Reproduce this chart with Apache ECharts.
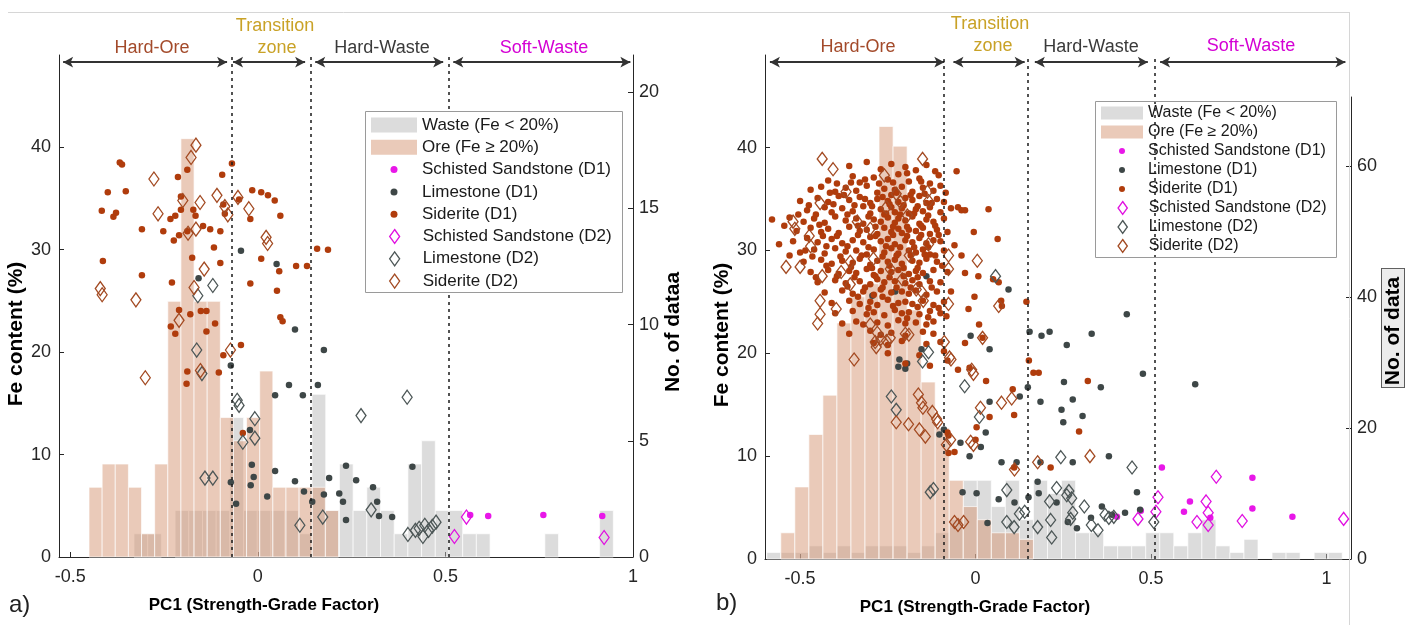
<!DOCTYPE html>
<html><head><meta charset="utf-8">
<script src="https://cdn.jsdelivr.net/npm/echarts@6/dist/echarts.min.js"></script>
<style>html,body{margin:0;padding:0;background:#fff}#c{width:1417px;height:625px}</style>
</head><body><div id="c"></div>
<script>
// ================= DATA =================
const xTicks = [-0.5, 0, 0.5, 1];
const feTicks = [0, 10, 20, 30, 40];
const countTicksA = [0, 5, 10, 15, 20];
const countTicksB = [0, 20, 40, 60];
const legendNames = ['Waste (Fe < 20%)', 'Ore (Fe \u2265 20%)', 'Schisted Sandstone (D1)', 'Limestone (D1)', 'Siderite (D1)', 'Schisted Sandstone (D2)', 'Limestone (D2)', 'Siderite (D2)'];
const zoneLabels = ['Hard-Ore', 'Transition', 'zone', 'Hard-Waste', 'Soft-Waste'];
const boundariesA = [-0.075, 0.142, 0.507];
const boundariesB = [-0.085, 0.146, 0.511];
const arrowsA = [[-0.519, -0.082], [-0.066, 0.126], [0.153, 0.494], [0.521, 0.993]];
const arrowsB = [[-0.586, -0.089], [-0.063, 0.14], [0.169, 0.491], [0.526, 1.054]];
const arrowFe = 48.3;

// histograms (bin start, bin width, counts)
const oreStartA = -0.45, oreWidthA = 0.035;
const oreCountsA = [3,4,4,3,1,4,11,18,11,11,6,5,6,8,3,3,3,3,2];
const wasteStartA = -0.33, wasteWidthA = 0.0365;
const wasteCountsA = [1,1,0,2,2,2,2,6,2,2,2,2,1,7,2,4,2,3,2,1,4,5,2,2,1,1,0,0,0,0,1,0,0,0,2];
const oreStartB = -0.555, oreWidthB = 0.04;
const oreCountsB = [4,11,19,25,36,40,42,66,63,38,27,20,12,8,6,4,4,3];
const wasteStartB = -0.595, wasteWidthB = 0.04;
const wasteCountsB = [1,1,1,2,1,2,1,2,2,2,1,2,4,6,12,12,8,12,6,12,10,12,4,4,2,2,2,4,4,2,4,6,2,1,3,0,1,1,0,1,1];

// panel a scatter [PC1, Fe]
const ssD1_a = [[0.566,4.1],[0.614,4.0],[0.761,4.1],[0.918,4.0]];
const limeD1_a = [[-0.045,29.9],[0.05,28.6],[-0.158,27.2],[0.099,22.2],[0.176,20.2],[0.16,16.8],[0.083,16.8],[0.12,15.8],[0.046,15.8],[-0.072,18.7],[-0.021,12.4],[-0.016,9.0],[-0.011,7.8],[-0.019,7.0],[-0.072,7.3],[-0.058,5.2],[0.025,5.9],[0.046,8.4],[0.099,7.4],[0.123,6.4],[0.145,5.4],[0.176,6.1],[0.19,7.7],[0.217,6.2],[0.235,8.9],[0.235,3.6],[0.227,5.4],[0.262,7.5],[0.307,6.8],[0.318,5.4],[0.323,4.0],[0.358,3.9],[0.412,8.8]];
const sidD1_a = [[-0.368,38.5],[-0.362,38.3],[-0.40,35.6],[-0.352,35.7],[-0.416,33.8],[-0.385,33.2],[-0.378,33.6],[-0.413,28.9],[-0.309,32.0],[-0.309,27.5],[-0.229,26.8],[-0.252,31.8],[-0.213,37.1],[-0.188,37.8],[-0.205,35.2],[-0.205,33.9],[-0.233,33.0],[-0.22,33.3],[-0.224,30.9],[-0.21,31.4],[-0.188,31.8],[-0.172,33.9],[-0.166,33.3],[-0.175,29.2],[-0.146,32.3],[-0.127,32.0],[-0.117,30.2],[-0.10,31.8],[-0.10,28.7],[-0.095,37.3],[-0.092,34.4],[-0.088,33.5],[-0.069,38.4],[-0.05,34.9],[-0.02,33.0],[-0.015,35.8],[0.009,35.6],[0.027,35.3],[0.045,34.8],[0.06,33.3],[-0.02,26.7],[0.009,29.1],[0.057,27.9],[0.102,28.4],[0.131,28.4],[0.158,30.1],[0.187,30.0],[0.051,26.0],[-0.152,24.0],[-0.21,24.1],[-0.18,23.7],[-0.22,21.8],[-0.137,24.0],[-0.137,22.0],[-0.114,22.8],[-0.188,18.1],[-0.19,16.9],[-0.104,18.0],[-0.232,22.5],[-0.045,20.7],[-0.092,19.7],[-0.04,12.1],[0.06,23.4],[0.066,23.0]];
const ssD2_a = [[0.556,3.9],[0.524,2.0],[0.923,1.9]];
const limeD2_a = [[-0.16,25.5],[-0.12,26.5],[-0.163,20.2],[-0.149,17.9],[-0.055,15.3],[-0.05,14.8],[-0.008,13.5],[-0.008,11.6],[-0.04,11.2],[-0.141,7.7],[-0.12,7.7],[0.112,3.1],[0.173,3.9],[0.275,13.8],[0.302,4.6],[0.398,15.6],[0.40,2.2],[0.42,2.6],[0.43,2.8],[0.44,2.0],[0.445,3.1],[0.455,2.6],[0.465,3.0],[0.475,3.4]];
const sidD2_a = [[-0.165,40.2],[-0.178,39.0],[-0.277,36.9],[-0.2,34.8],[-0.154,34.6],[-0.109,35.3],[-0.088,34.2],[-0.08,33.4],[-0.266,33.5],[-0.186,31.6],[-0.165,32.0],[-0.053,35.1],[-0.024,34.0],[0.022,31.2],[0.026,30.6],[-0.143,28.1],[-0.17,26.3],[-0.42,26.2],[-0.415,25.6],[-0.325,25.1],[-0.21,23.1],[-0.30,17.5],[-0.073,20.2],[-0.153,18.2]];

// panel b scatter [PC1, Fe]
const ssD1_b = [[0.531,8.9],[0.789,7.9],[0.611,5.6],[0.594,4.6],[0.471,4.7],[0.669,4.0],[0.789,4.9],[0.903,4.1],[0.403,4.1]];
const limeD1_b = [[-0.217,19.4],[-0.2,18.5],[-0.195,19.0],[-0.154,20.4],[-0.22,18.7],[-0.103,12.1],[-0.09,12.6],[-0.014,21.7],[0.04,20.4],[0.029,12.3],[0.154,22.1],[0.188,21.7],[0.211,22.1],[0.26,20.8],[0.331,21.9],[0.477,18.0],[0.431,23.8],[0.626,17.0],[0.252,17.2],[0.357,16.7],[0.277,15.5],[0.245,14.5],[0.25,13.3],[0.305,13.9],[0.185,15.3],[0.149,16.7],[0.126,15.8],[0.04,15.3],[0.015,10.9],[-0.043,11.3],[-0.017,10.0],[0.074,9.4],[0.117,9.4],[0.185,9.4],[0.277,9.4],[0.38,10.0],[0.177,7.5],[0.18,6.4],[-0.037,6.5],[0.003,6.4],[0.066,5.8],[0.111,5.5],[0.151,6.0],[0.231,5.5],[0.289,3.0],[0.389,4.3],[0.426,4.5],[0.46,6.5],[0.469,4.8],[0.263,3.6],[0.329,4.0],[0.36,5.1],[0.034,3.5],[-0.30,28.4],[-0.294,25.6],[-0.229,26.0],[-0.14,27.5],[0.094,26.2]];
const sidD1_b = [
[-0.36,38.2],[-0.31,38.6],[-0.27,37.9],[-0.24,38.4],[-0.2,38.1],[-0.17,37.8],[-0.14,38.3],[-0.115,37.7],
[-0.42,36.8],[-0.35,37.2],[-0.33,36.6],[-0.29,37.1],[-0.25,36.9],[-0.22,37.4],[-0.19,36.7],[-0.16,37.0],[-0.13,36.5],[-0.105,37.3],
[-0.47,35.9],[-0.44,36.2],[-0.40,35.7],[-0.37,36.1],[-0.34,35.8],[-0.31,36.3],[-0.28,35.6],[-0.26,36.0],[-0.23,35.9],[-0.21,36.2],[-0.18,35.7],[-0.15,36.1],[-0.12,35.8],[-0.1,36.3],[-0.085,35.6],
[-0.5,34.8],[-0.45,35.1],[-0.42,34.7],[-0.39,35.3],[-0.36,34.9],[-0.33,35.2],[-0.3,34.6],[-0.28,35.0],[-0.25,34.8],[-0.24,35.4],[-0.22,34.7],[-0.2,35.1],[-0.18,34.9],[-0.16,35.3],[-0.14,34.6],[-0.11,35.0],[-0.09,34.7],
[-0.48,33.9],[-0.43,34.2],[-0.41,33.7],[-0.38,34.1],[-0.35,33.8],[-0.32,34.3],[-0.3,33.6],[-0.27,34.0],[-0.26,33.5],[-0.24,34.2],[-0.23,33.7],[-0.21,34.1],[-0.19,33.6],[-0.17,34.0],[-0.15,33.8],[-0.13,34.2],[-0.1,33.7],[-0.07,34.1],[-0.04,33.9],
[-0.58,33.0],[-0.53,33.2],[-0.49,32.8],[-0.46,33.1],[-0.43,32.7],[-0.4,33.3],[-0.37,32.9],[-0.34,33.1],[-0.32,32.6],[-0.29,33.0],[-0.27,32.8],[-0.25,33.2],[-0.23,32.7],[-0.22,33.1],[-0.2,32.9],[-0.18,33.3],[-0.16,32.6],[-0.14,33.0],[-0.12,32.8],[-0.09,33.1],
[-0.51,31.9],[-0.47,32.2],[-0.44,31.8],[-0.42,32.1],[-0.39,31.7],[-0.36,32.3],[-0.33,31.9],[-0.31,32.0],[-0.28,31.6],[-0.26,32.2],[-0.24,31.8],[-0.22,32.1],[-0.21,31.7],[-0.19,32.0],[-0.17,31.9],[-0.15,32.2],[-0.13,31.6],[-0.11,32.0],[-0.08,31.8],
[-0.52,30.9],[-0.48,31.2],[-0.45,30.8],[-0.41,31.1],[-0.38,30.7],[-0.35,31.0],[-0.32,30.8],[-0.3,31.3],[-0.27,30.9],[-0.25,31.1],[-0.23,30.6],[-0.2,31.0],[-0.18,30.8],[-0.16,31.2],[-0.14,30.7],[-0.12,31.0],[-0.1,30.9],
[-0.5,29.8],[-0.46,30.1],[-0.43,29.7],[-0.4,30.2],[-0.37,29.9],[-0.34,30.0],[-0.31,29.6],[-0.29,30.1],[-0.26,29.8],[-0.24,30.2],[-0.22,29.7],[-0.19,30.0],[-0.17,29.8],[-0.15,30.1],[-0.13,29.6],[-0.09,30.0],
[-0.49,28.9],[-0.44,29.1],[-0.41,28.7],[-0.38,29.0],[-0.35,28.8],[-0.33,29.2],[-0.3,28.6],[-0.28,29.0],[-0.25,28.9],[-0.23,29.1],[-0.21,28.7],[-0.18,29.0],[-0.16,28.8],[-0.14,29.2],[-0.11,28.9],
[-0.47,27.9],[-0.42,28.1],[-0.39,27.7],[-0.36,28.0],[-0.34,27.8],[-0.31,28.2],[-0.29,27.6],[-0.27,28.0],[-0.24,27.9],[-0.22,28.1],[-0.19,27.7],[-0.17,28.0],[-0.15,27.8],[-0.12,28.1],[-0.08,27.9],
[-0.45,26.9],[-0.4,27.1],[-0.37,26.8],[-0.33,27.0],[-0.3,26.7],[-0.28,27.2],[-0.26,26.9],[-0.23,27.0],[-0.2,26.8],[-0.18,27.1],[-0.16,26.7],[-0.13,27.0],[-0.1,26.9],
[-0.43,25.9],[-0.38,26.1],[-0.35,25.8],[-0.32,26.0],[-0.29,25.7],[-0.27,26.2],[-0.24,25.9],[-0.21,26.0],[-0.19,25.8],[-0.17,26.1],[-0.14,25.7],[-0.11,26.0],
[-0.41,24.9],[-0.36,25.1],[-0.33,24.8],[-0.3,25.0],[-0.28,24.7],[-0.25,25.2],[-0.22,24.9],[-0.2,25.0],[-0.18,24.8],[-0.15,25.1],[-0.12,24.7],[-0.09,25.0],
[-0.4,23.9],[-0.35,24.1],[-0.31,23.8],[-0.29,24.0],[-0.26,23.7],[-0.23,24.2],[-0.21,23.9],[-0.19,24.0],[-0.16,23.8],[-0.13,24.1],[-0.1,23.9],
[-0.38,22.9],[-0.34,23.1],[-0.32,22.8],[-0.28,23.0],[-0.25,22.7],[-0.22,23.2],[-0.2,22.9],[-0.17,23.0],[-0.14,22.8],[-0.12,23.1],
[-0.36,21.9],[-0.3,22.2],[-0.27,21.8],[-0.24,22.0],[-0.2,21.7],[-0.15,22.1],[-0.12,21.9],
[-0.29,21.0],[-0.25,20.8],[-0.21,21.2],[-0.14,20.9],[-0.1,21.1],
[-0.25,20.0],[-0.16,19.8],[-0.09,20.2],[-0.2,19.0],[-0.13,18.8],[-0.08,19.3],
[-0.375,35.4],[-0.345,34.4],[-0.315,35.0],[-0.295,34.3],[-0.265,35.2],[-0.245,34.5],[-0.225,35.6],[-0.205,34.4],[-0.185,35.4],[-0.165,34.3],[-0.145,35.5],
[-0.365,33.5],[-0.335,32.4],[-0.305,33.3],[-0.285,32.3],[-0.255,33.6],[-0.235,32.3],[-0.215,33.5],[-0.195,32.3],[-0.175,33.6],[-0.155,32.4],[-0.135,33.4],[-0.115,32.4],
[-0.395,31.4],[-0.365,30.4],[-0.335,31.5],[-0.305,30.3],[-0.285,31.4],[-0.255,30.4],[-0.235,31.5],[-0.215,30.3],[-0.195,31.4],[-0.175,30.3],[-0.155,31.5],[-0.135,30.3],
[-0.385,29.4],[-0.355,28.4],[-0.325,29.5],[-0.295,28.3],[-0.265,29.4],[-0.245,28.5],[-0.225,29.5],[-0.205,28.3],[-0.185,29.5],[-0.165,28.3],[-0.145,29.6],
[-0.345,27.4],[-0.315,26.4],[-0.285,27.5],[-0.265,26.4],[-0.245,27.4],[-0.225,26.4],[-0.205,27.5],[-0.185,26.4],[-0.165,27.4],
[-0.455,33.5],[-0.435,31.4],[-0.465,29.4],[-0.425,30.4],[-0.415,35.6],[-0.445,32.5],[-0.475,34.4],[-0.405,34.5],[-0.395,36.5],[-0.355,36.6],[-0.315,36.9],[-0.275,36.5],[-0.235,36.6],[-0.195,37.5],[-0.155,36.7],
[-0.125,34.6],[-0.105,31.5],[-0.115,29.5],[-0.095,28.5],[-0.125,26.4],[-0.105,24.4],[-0.135,23.5],[-0.165,24.5],[-0.195,23.4],[-0.235,24.6],[-0.265,25.5],[-0.305,24.4],[-0.335,25.5],[-0.365,26.5],[-0.395,27.5],[-0.425,28.5],[-0.455,27.4],[-0.485,30.0],[-0.505,33.5],[-0.545,32.4],[-0.56,30.6],[-0.53,29.5],
[-0.077,12.0],[-0.08,12.3],[-0.077,10.3],[-0.06,10.4],[-0.05,18.4],[-0.017,18.6],[0.003,12.8],[0.0,11.6],[0.03,17.3],[0.04,13.8],[0.106,16.5],[0.11,14.0],[0.11,8.9],[0.152,19.3],[0.165,18.1],[0.18,18.1],[0.214,8.9],[0.32,17.3],[0.295,12.4],[0.145,25.0],[0.073,25.1],[0.075,24.6],[0.063,31.1],[0.037,34.0],[0.008,27.5],[-0.03,27.8],[0.05,27.2],[0.066,26.9],[-0.05,34.2],[-0.03,33.9],[-0.005,31.8],[-0.083,23.6],[-0.003,25.5],[-0.06,30.5],[-0.04,29.5],[-0.07,26.0],[0.02,21.5],[-0.03,21.0],[-0.054,37.7],[-0.02,24.3],[0.01,22.8]];
const ssD2_b = [[0.686,8.0],[0.52,6.0],[0.514,4.6],[0.463,3.9],[0.657,5.6],[0.663,4.5],[0.631,3.6],[0.663,3.3],[0.76,3.7],[1.049,3.9]];
const limeD2_b = [[-0.24,15.8],[-0.226,14.5],[-0.134,20.1],[-0.151,19.2],[-0.129,6.5],[-0.12,6.8],[-0.031,16.8],[0.011,13.8],[0.089,6.7],[0.11,3.1],[0.089,3.6],[0.125,4.4],[0.14,4.6],[0.177,3.1],[0.217,2.1],[0.214,3.8],[0.243,9.9],[0.231,6.9],[0.211,5.6],[0.26,6.2],[0.266,6.6],[0.274,5.9],[0.277,4.5],[0.271,3.9],[0.31,5.1],[0.33,3.3],[0.349,2.8],[0.369,4.3],[0.38,4.0],[0.394,4.1],[0.446,8.9],[0.508,3.6],[0.057,27.5]];
const sidD2_b = [[-0.437,38.9],[-0.406,37.9],[-0.151,38.9],[-0.26,37.3],[-0.369,35.7],[-0.443,34.6],[-0.52,32.8],[-0.515,32.1],[-0.474,31.4],[-0.47,30.4],[-0.54,28.4],[-0.50,28.4],[-0.437,27.5],[-0.357,26.7],[-0.337,32.8],[-0.3,32.1],[-0.254,34.2],[-0.226,35.5],[-0.214,34.7],[-0.194,33.4],[-0.137,35.7],[-0.134,34.8],[-0.134,30.6],[-0.189,29.5],[-0.291,29.2],[-0.357,28.9],[-0.383,27.9],[-0.243,28.2],[-0.209,27.2],[-0.169,26.2],[-0.154,26.0],[-0.077,29.5],[-0.077,28.2],[0.005,29.0],[0.066,24.6],[-0.077,24.8],[-0.149,25.1],[-0.443,23.8],[-0.397,24.3],[-0.443,25.1],[-0.45,22.9],[-0.346,19.4],[-0.3,22.8],[-0.28,22.0],[-0.27,21.4],[-0.254,21.2],[-0.286,21.1],[-0.243,21.5],[-0.283,20.6],[-0.2,21.9],[-0.19,21.8],[-0.226,13.3],[-0.191,13.1],[-0.16,12.6],[-0.163,16.0],[-0.154,15.2],[-0.15,14.7],[-0.123,14.3],[-0.111,13.6],[-0.108,13.3],[-0.143,11.9],[-0.083,11.1],[-0.071,11.6],[-0.089,21.1],[-0.074,19.6],[-0.07,19.4],[-0.011,18.4],[-0.006,18.0],[-0.006,11.1],[-0.014,11.4],[0.02,21.5],[0.014,14.7],[0.074,15.2],[0.103,15.6],[0.111,8.7],[0.177,9.4],[0.326,10.0],[-0.06,3.6],[-0.034,3.6],[-0.05,3.3]];

// ================= STYLE =================
const FONT = "'Liberation Sans', Arial, sans-serif";
const AX = '#262626';
const COL = {
  waste: 'rgba(185,185,185,0.5)', ore: 'rgba(214,150,115,0.5)',
  ssD1: '#e817e8', limeD1: '#3e4747', sidD1: '#b03c0c',
  ssD2: '#e010e0', limeD2: '#4d5757', sidD2: '#a34a22'
};
const DIAMOND_ICON = 'path://M5,0L10,7L5,14L0,7Z';

function histData(start, w, counts) {
  return counts.map((c, i) => [start + i * w, start + (i + 1) * w, c]).filter(d => d[2] > 0);
}
function histSeries(name, xi, yi, data, color) {
  return {
    type: 'custom', name, xAxisIndex: xi, yAxisIndex: yi, z: 1, silent: true,
    itemStyle: { color }, encode: { x: [0, 1], y: 2 },
    renderItem(params, api) {
      const p0 = api.coord([api.value(0), api.value(2)]);
      const p1 = api.coord([api.value(1), 0]);
      return { type: 'rect', shape: { x: p0[0], y: p0[1], width: p1[0] - p0[0], height: p1[1] - p0[1] },
        style: { fill: color, stroke: 'rgba(255,255,255,0.85)', lineWidth: 0.8 } };
    },
    data
  };
}
function dots(name, xi, yi, data, color, size) {
  return { type: 'scatter', name, xAxisIndex: xi, yAxisIndex: yi, symbol: 'circle', symbolSize: size,
    itemStyle: { color, opacity: 1 }, z: 3, silent: true, data };
}
function diamonds(name, xi, yi, data, color, size) {
  return { type: 'scatter', name, xAxisIndex: xi, yAxisIndex: yi, symbol: 'diamond', symbolSize: size,
    itemStyle: { color: 'rgba(255,255,255,0)', borderColor: color, borderWidth: 1.3, opacity: 1 }, z: 4, silent: true, data };
}
function zoneLines(bounds) {
  return { silent: true, animation: false, symbol: ['none', 'none'], label: { show: false },
    lineStyle: { color: '#1a1a1a', type: [3, 4], width: 1.5 },
    data: bounds.map(v => ({ xAxis: v })) };
}
function zoneArrows(arrows) {
  return { silent: true, animation: false, symbol: ['arrow', 'arrow'], symbolSize: [8, 10], label: { show: false },
    lineStyle: { color: '#333', type: 'solid', width: 2 },
    data: arrows.map(a => [{ coord: [a[0], arrowFe] }, { coord: [a[1], arrowFe] }]) };
}

function xAxisCfg(gi, min, max, show, padRight) {
  return {
    type: 'value', gridIndex: gi, min, max, show,
    name: show ? 'PC1 (Strength-Grade Factor)' : '', nameLocation: 'middle', nameGap: 40,
    nameTextStyle: { fontFamily: FONT, fontSize: 17, fontWeight: 'bold', color: '#000', padding: [0, padRight, 0, 0] },
    axisLine: { show: true, onZero: false, lineStyle: { color: AX, width: 1 } },
    axisTick: { show: true, inside: true, length: 5, customValues: xTicks, lineStyle: { color: AX } },
    axisLabel: { customValues: xTicks, margin: 11, fontFamily: FONT, fontSize: 18, color: AX },
    splitLine: { show: false }
  };
}
function yLeft(gi, name) {
  return {
    type: 'value', gridIndex: gi, min: 0, max: 49, position: 'left',
    name, nameLocation: 'middle', nameGap: 26,
    nameTextStyle: { fontFamily: FONT, fontSize: 21, fontWeight: 'bold', color: '#000', padding: [0, 56, 0, 0] },
    axisLine: { show: true, onZero: false, lineStyle: { color: AX } },
    axisTick: { show: true, inside: true, length: 5, customValues: feTicks, lineStyle: { color: AX } },
    axisLabel: { customValues: feTicks, margin: 8, fontFamily: FONT, fontSize: 18, color: AX },
    splitLine: { show: false }
  };
}
function yRight(gi, max, ticks, name, gap, boxed, padR) {
  const nts = { fontFamily: FONT, fontSize: 21, fontWeight: 'bold', color: '#000', padding: [0, padR, 0, 0] };
  if (boxed) Object.assign(nts, { backgroundColor: '#ececec', borderColor: '#333', borderWidth: 0.8, padding: [1, padR, 0, 2] });
  return {
    type: 'value', gridIndex: gi, min: 0, max, position: 'right',
    name, nameLocation: 'middle', nameGap: gap, nameTextStyle: nts,
    axisLine: { show: true, onZero: false, lineStyle: { color: AX } },
    axisTick: { show: true, inside: true, length: 5, customValues: ticks, lineStyle: { color: AX } },
    axisLabel: { customValues: ticks, margin: 6, fontFamily: FONT, fontSize: 18, color: AX },
    splitLine: { show: false }
  };
}
function legendGroup(names, left, top, iw, ih, icon, fs, lh, extra) {
  return Object.assign({
    orient: 'vertical', left, top, padding: 0, itemGap: 0.3, itemWidth: iw, itemHeight: ih, icon,
    selectedMode: false, z: 20, data: names,
    textStyle: { fontFamily: FONT, fontSize: fs, lineHeight: lh, color: '#1a1a1a' }
  }, extra || {});
}
function headerTexts(pos) {
  const cols = ['#a34a2a', '#c9a227', '#c9a227', '#3a3a3a', '#d400d4'];
  return zoneLabels.map((t, i) => ({
    type: 'text', x: pos[i][0], y: pos[i][1], z: 30,
    style: { text: t, fill: cols[i], font: '18px ' + FONT, align: 'center', verticalAlign: 'middle' }
  }));
}

const chart = echarts.init(document.getElementById('c'), null, { renderer: 'canvas' });
const option = {
  animation: false,
  backgroundColor: '#fff',
  grid: [
    { left: 59, right: 784, top: 55, bottom: 68 },
    { left: 59, right: 784, top: 55, bottom: 68 },
    { left: 765, right: 66, top: 55, bottom: 66 },
    { left: 765, right: 66, top: 97, bottom: 66 }
  ],
  xAxis: [
    xAxisCfg(0, -0.53, 1.0, true, 164),
    xAxisCfg(1, -0.53, 1.0, false, 0),
    xAxisCfg(2, -0.6, 1.07, true, 166),
    xAxisCfg(3, -0.6, 1.07, false, 0)
  ],
  yAxis: [
    yLeft(0, 'Fe content (%)'),
    yRight(1, 21.6, countTicksA, 'No. of dataa', 24, false, 52),
    yLeft(2, 'Fe content (%)'),
    yRight(3, 70.5, countTicksB, 'No. of data', 31, true, 8)
  ],
  legend: [
    legendGroup(legendNames.slice(0, 2), 371, 114, 46, 15, 'rect', 17, 22),
    legendGroup(legendNames.slice(2, 5), 390.5, 158.6, 46, 7, 'circle', 17, 22),
    legendGroup(legendNames.slice(5, 8), 389, 225.5, 46, 14, DIAMOND_ICON, 17, 22, { itemStyle: { borderWidth: 1.3 } }),
    legendGroup(legendNames.slice(0, 2), 1101, 103.5, 42, 13, 'rect', 16, 19, { itemGap: 0 }),
    legendGroup(legendNames.slice(2, 5), 1119, 141.5, 42, 6, 'circle', 16, 19, { itemGap: 0 }),
    legendGroup(legendNames.slice(5, 8), 1117.4, 198.5, 42, 13, DIAMOND_ICON, 16, 19, { itemGap: 0, itemStyle: { borderWidth: 1.3 } })
  ],
  series: [
    histSeries(legendNames[0], 1, 1, histData(wasteStartA, wasteWidthA, wasteCountsA), COL.waste),
    histSeries(legendNames[1], 1, 1, histData(oreStartA, oreWidthA, oreCountsA), COL.ore),
    dots(legendNames[2], 0, 0, ssD1_a, COL.ssD1, 6.5),
    Object.assign(dots(legendNames[3], 0, 0, limeD1_a, COL.limeD1, 6.5), { markLine: zoneArrows(arrowsA) }),
    Object.assign(dots(legendNames[4], 0, 0, sidD1_a, COL.sidD1, 6.5), { markLine: zoneLines(boundariesA) }),
    diamonds(legendNames[5], 0, 0, ssD2_a, COL.ssD2, [10, 14]),
    diamonds(legendNames[6], 0, 0, limeD2_a, COL.limeD2, [10, 14]),
    diamonds(legendNames[7], 0, 0, sidD2_a, COL.sidD2, [10, 14]),

    histSeries(legendNames[0], 3, 3, histData(wasteStartB, wasteWidthB, wasteCountsB), COL.waste),
    histSeries(legendNames[1], 3, 3, histData(oreStartB, oreWidthB, oreCountsB), COL.ore),
    dots(legendNames[2], 2, 2, ssD1_b, COL.ssD1, 6.5),
    Object.assign(dots(legendNames[3], 2, 2, limeD1_b, COL.limeD1, 6.5), { markLine: zoneArrows(arrowsB) }),
    Object.assign(dots(legendNames[4], 2, 2, sidD1_b, COL.sidD1, 6.5), { markLine: zoneLines(boundariesB) }),
    diamonds(legendNames[5], 2, 2, ssD2_b, COL.ssD2, [10, 13]),
    diamonds(legendNames[6], 2, 2, limeD2_b, COL.limeD2, [10, 13]),
    diamonds(legendNames[7], 2, 2, sidD2_b, COL.sidD2, [10, 13])
  ],
  graphic: [
    { type: 'line', z: 1, shape: { x1: 8, y1: 12.5, x2: 1350, y2: 12.5 }, style: { stroke: '#d6d6d6', lineWidth: 1 } },
    { type: 'line', z: 1, shape: { x1: 1349.5, y1: 12, x2: 1349.5, y2: 625 }, style: { stroke: '#d6d6d6', lineWidth: 1 } },
    { type: 'rect', z: 10, shape: { x: 365.5, y: 111.5, width: 257, height: 181 }, style: { fill: '#fff', stroke: '#9a9a9a', lineWidth: 1 } },
    { type: 'rect', z: 10, shape: { x: 1095.5, y: 101.5, width: 241, height: 156 }, style: { fill: 'rgba(255,255,255,0)', stroke: '#9a9a9a', lineWidth: 1 } },
    ...headerTexts([[152, 48], [275, 26], [277, 48], [382, 48], [544, 48]]),
    ...headerTexts([[858, 47], [990, 24], [993, 46], [1091, 47], [1251, 46]]),
    { type: 'text', x: 9, y: 605, z: 30, style: { text: 'a)', fill: '#222', font: '24px ' + FONT, verticalAlign: 'middle' } },
    { type: 'text', x: 716, y: 603, z: 30, style: { text: 'b)', fill: '#222', font: '24px ' + FONT, verticalAlign: 'middle' } }
  ]
};
chart.setOption(option);
</script>
</body></html>
